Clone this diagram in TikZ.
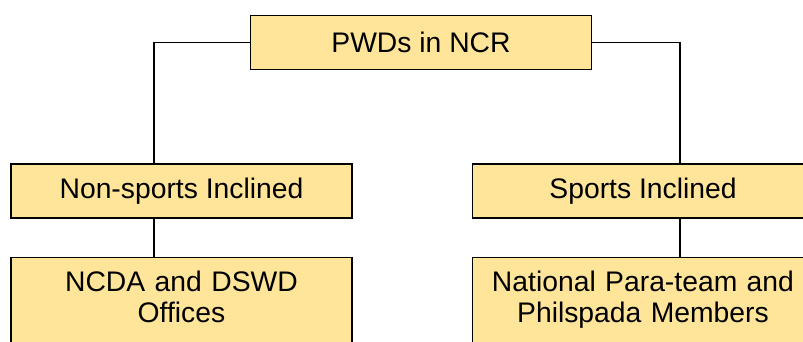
\documentclass[tikz,border=0pt]{standalone}
\usepackage{fontspec}
\setmainfont{Liberation Sans}
\usetikzlibrary{positioning}
\definecolor{boxfill}{RGB}{255,229,153}
\tikzstyle{block} = [rectangle, draw, fill=boxfill, line width=1.2pt, text centered, minimum width=341pt, minimum height=54pt, inner sep=0pt, font=\fontsize{28.3}{31}\selectfont]
\tikzstyle{bigblock} = [block, text width=334pt, minimum height=111pt, anchor=north]
\tikzstyle{line} = [draw, line width=1.6pt]

\begin{document}
\begin{tikzpicture}[x=1pt,y=-1pt]

\useasboundingbox (0,0) rectangle (803,342);

\node[block](pwd) at (421,42.5){PWDs in NCR};
\node[block](non) at (181.5,191){Non-sports Inclined};
\node[block](sports) at (643,191){Sports Inclined};
% third empty line keeps the text high, box runs past the edge
\node[bigblock,below=38pt of non](ncda){NCDA and DSWD\\Offices\\\mbox{}};
\node[bigblock,below=38pt of sports](para){National Para-team and\\Philspada Members\\\mbox{}};

\coordinate (lft) at (154,42.5);
\coordinate (rgt) at (680,42.5);
\path[line] (pwd.west) -- (lft) -- (lft |- non.north);
\path[line] (pwd.east) -- (rgt) -- (rgt |- sports.north);
\path[line] (non.south -| lft) -- (ncda.north -| lft);
\path[line] (sports.south -| rgt) -- (para.north -| rgt);

\end{tikzpicture}
\end{document}
